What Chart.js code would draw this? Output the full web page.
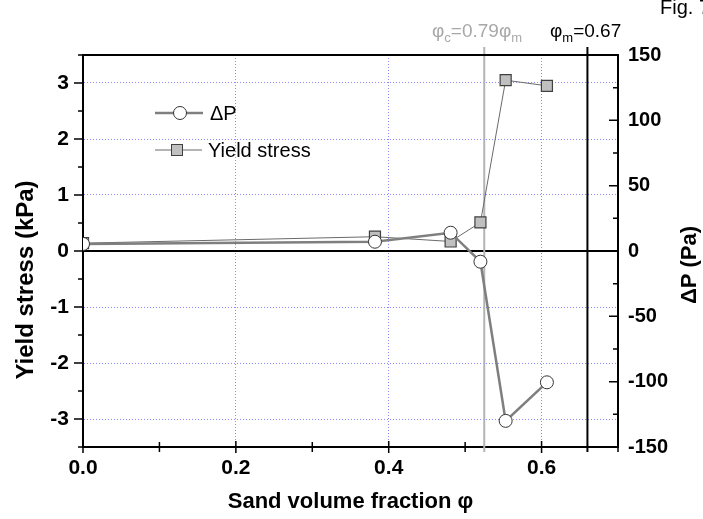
<!DOCTYPE html>
<html>
<head>
<meta charset="utf-8">
<script src="https://cdn.jsdelivr.net/npm/chart.js@4/dist/chart.umd.min.js"></script>
<style>
  html, body { margin: 0; padding: 0; background: #fff; }
  canvas { display: block; }
</style>
</head>
<body>
<canvas id="myChart" width="703" height="519"></canvas>
<script>
// values
const fractions = [0, 0.382, 0.481, 0.52, 0.553, 0.607];
const deltaP = [5.4, 7.1, 14.0, -8.2, -130, -100.5];       // Pa, right axis
const yieldStress = [0.14, 0.255, 0.17, 0.51, 3.05, 2.95]; // kPa, left axis

const phiC = 0.525;  // grey marker line
const phiM = 0.66;   // black marker line

const xMajor = [0, 0.2, 0.4, 0.6];
const xMinor = [0.1, 0.3, 0.5, 0.7];
const leftMajor = [-3, -2, -1, 0, 1, 2, 3];
const leftMinor = [-3.5, -2.5, -1.5, -0.5, 0.5, 1.5, 2.5, 3.5];
const rightMajor = [-150, -100, -50, 0, 50, 100, 150];
const rightMinor = [-125, -75, -25, 25, 75, 125];

const FONT = '"Liberation Sans", Arial, sans-serif';
const GRID = 'rgba(110,110,255,0.8)';

const near = (v, list) => list.some(t => Math.abs(t - v) < 1e-6);

const extras = {
  id: 'extras',
  beforeDatasetsDraw(chart) {
    const ctx = chart.ctx;
    const { x, y } = chart.scales;
    const a = chart.chartArea;
    ctx.save();
    // zero line
    const y0 = y.getPixelForValue(0);
    ctx.strokeStyle = '#000';
    ctx.lineWidth = 2;
    ctx.beginPath();
    ctx.moveTo(a.left, y0);
    ctx.lineTo(a.right, y0);
    ctx.stroke();
    // phi_c and phi_m lines
    const xc = x.getPixelForValue(phiC);
    ctx.strokeStyle = '#b4b4b4';
    ctx.lineWidth = 2;
    ctx.beginPath();
    ctx.moveTo(xc, a.top - 8);
    ctx.lineTo(xc, a.bottom + 5);
    ctx.stroke();
    const xm = x.getPixelForValue(phiM);
    ctx.strokeStyle = '#000';
    ctx.beginPath();
    ctx.moveTo(xm, a.top - 8);
    ctx.lineTo(xm, a.bottom + 5);
    ctx.stroke();
    ctx.restore();
  },
  afterDraw(chart) {
    const ctx = chart.ctx;
    const { x, y, y1 } = chart.scales;
    const a = chart.chartArea;
    ctx.save();
    ctx.strokeStyle = '#000';
    ctx.lineWidth = 2;
    // top frame
    ctx.beginPath();
    ctx.moveTo(a.left - 1, a.top);
    ctx.lineTo(a.right + 1, a.top);
    ctx.stroke();

    // ticks
    ctx.lineWidth = 1.5;
    ctx.beginPath();
    leftMajor.forEach(v => { const p = y.getPixelForValue(v); ctx.moveTo(a.left - 9, p); ctx.lineTo(a.left, p); });
    leftMinor.forEach(v => { const p = y.getPixelForValue(v); ctx.moveTo(a.left - 5, p); ctx.lineTo(a.left, p); });
    rightMajor.forEach(v => { const p = y1.getPixelForValue(v); ctx.moveTo(a.right - 9, p); ctx.lineTo(a.right, p); });
    rightMinor.forEach(v => { const p = y1.getPixelForValue(v); ctx.moveTo(a.right - 5, p); ctx.lineTo(a.right, p); });
    xMajor.forEach(v => { const p = x.getPixelForValue(v); ctx.moveTo(p, a.bottom - 6); ctx.lineTo(p, a.bottom + 6); });
    xMinor.forEach(v => { const p = x.getPixelForValue(v); ctx.moveTo(p, a.bottom - 5); ctx.lineTo(p, a.bottom + 5); });
    ctx.stroke();

    // axis titles
    ctx.fillStyle = '#000';
    ctx.font = 'bold 22px ' + FONT;
    ctx.textAlign = 'center';
    ctx.textBaseline = 'middle';
    ctx.fillText('Sand volume fraction \u03c6', (a.left + a.right) / 2, 502);
    ctx.save();
    ctx.translate(690, 265);
    ctx.rotate(-Math.PI / 2);
    ctx.fillText('\u0394P (Pa)', 0, 0);
    ctx.restore();
    ctx.save();
    ctx.font = 'bold 24px ' + FONT;
    ctx.translate(26, 280);
    ctx.rotate(-Math.PI / 2);
    ctx.fillText('Yield stress (kPa)', 0, 0);
    ctx.restore();

    // annotations above the frame
    ctx.textAlign = 'left';
    ctx.textBaseline = 'alphabetic';
    const sub = (parts, x0, base, color) => {
      let cx = x0;
      ctx.fillStyle = color;
      parts.forEach(([t, small]) => {
        ctx.font = (small ? '13px ' : '19px ') + FONT;
        ctx.fillText(t, cx, base + (small ? 5 : 0));
        cx += ctx.measureText(t).width;
      });
    };
    sub([['\u03c6'], ['c', 1], ['=0.79\u03c6'], ['m', 1]], 432, 37, '#a8a8a8');
    sub([['\u03c6'], ['m', 1], ['=0.67']], 550, 37, '#000');
    ctx.fillStyle = '#000';
    ctx.font = '20px ' + FONT;
    ctx.fillText('Fig. 7', 660, 14);

    // legend
    ctx.strokeStyle = '#7f7f7f';
    ctx.lineWidth = 2.5;
    ctx.beginPath();
    ctx.moveTo(155, 113); ctx.lineTo(203, 113);
    ctx.stroke();
    ctx.beginPath();
    ctx.arc(180, 113, 6.5, 0, Math.PI * 2);
    ctx.fillStyle = '#fff';
    ctx.fill();
    ctx.strokeStyle = '#333';
    ctx.lineWidth = 1;
    ctx.stroke();
    ctx.strokeStyle = '#6a6a6a';
    ctx.lineWidth = 1;
    ctx.beginPath();
    ctx.moveTo(155, 150); ctx.lineTo(202, 150);
    ctx.stroke();
    ctx.fillStyle = '#c0c0c0';
    ctx.fillRect(171.5, 144.5, 11, 11);
    ctx.strokeStyle = '#404040';
    ctx.strokeRect(171.5, 144.5, 11, 11);
    ctx.fillStyle = '#000';
    ctx.font = '20px ' + FONT;
    ctx.textBaseline = 'middle';
    ctx.fillText('\u0394P', 210, 114);
    ctx.fillText('Yield stress', 208, 151);
    ctx.restore();
  }
};

const chartConfig = {
  type: 'line',
  data: {
    datasets: [{
      label: '\u0394P',
      yAxisID: 'y1',
      data: fractions.map((f, i) => ({ x: f, y: deltaP[i] })),
      borderColor: '#7f7f7f',
      borderWidth: 2.5,
      pointStyle: 'circle',
      pointRadius: 6.5,
      pointBackgroundColor: '#fff',
      pointBorderColor: '#333',
      pointBorderWidth: 1,
      clip: { left: 0, top: 10, right: 10, bottom: 10 }
    }, {
      label: 'Yield stress',
      yAxisID: 'y',
      data: fractions.map((f, i) => ({ x: f, y: yieldStress[i] })),
      borderColor: '#6a6a6a',
      borderWidth: 1,
      pointStyle: 'rect',
      pointRadius: 7.8,
      pointBackgroundColor: '#c0c0c0',
      pointBorderColor: '#404040',
      pointBorderWidth: 1.2,
      clip: { left: 0, top: 10, right: 10, bottom: 10 }
    }]
  },
  options: {
    responsive: false,
    animation: false,
    devicePixelRatio: 1,
    layout: { padding: { top: 55, left: 0, right: 0, bottom: 0 } },
    plugins: { legend: { display: false }, tooltip: { enabled: false } },
    scales: {
      x: {
        type: 'linear',
        position: 'bottom',
        min: 0,
        max: 0.7,
        afterFit: s => { s.height = 72; },
        ticks: {
          stepSize: 0.1,
          padding: 9,
          color: '#000',
          font: { family: FONT, size: 21, weight: 'bold' },
          maxRotation: 0,
          autoSkip: false,
          callback: v => near(v, xMajor) ? v.toFixed(1) : ''
        },
        grid: {
          drawTicks: false,
          lineWidth: 1,
          color: c => (near(c.tick.value, xMajor) && c.tick.value > 0) ? GRID : 'transparent'
        },
        border: { color: '#000', width: 2, dash: [1, 2] }
      },
      y: {
        position: 'left',
        min: -3.5,
        max: 3.5,
        afterFit: s => { s.width = 83; },
        ticks: {
          stepSize: 0.5,
          padding: 14,
          color: '#000',
          font: { family: FONT, size: 21, weight: 'bold' },
          autoSkip: false,
          callback: v => near(v, leftMajor) ? String(v) : ''
        },
        grid: {
          drawTicks: false,
          lineWidth: 1,
          color: c => (near(c.tick.value, leftMajor) && c.tick.value !== 0) ? GRID : 'transparent'
        },
        border: { color: '#000', width: 2, dash: [1, 2] }
      },
      y1: {
        position: 'right',
        min: -150,
        max: 150,
        afterFit: s => { s.width = 85; },
        ticks: {
          stepSize: 25,
          padding: 10,
          color: '#000',
          font: { family: FONT, size: 20, weight: 'bold' },
          autoSkip: false,
          callback: v => near(v, rightMajor) ? String(v) : ''
        },
        grid: { drawTicks: false, drawOnChartArea: false },
        border: { color: '#000', width: 2 }
      }
    }
  },
  plugins: [extras]
};

const myChart = new Chart(document.getElementById('myChart').getContext('2d'), chartConfig);
</script>
</body>
</html>
